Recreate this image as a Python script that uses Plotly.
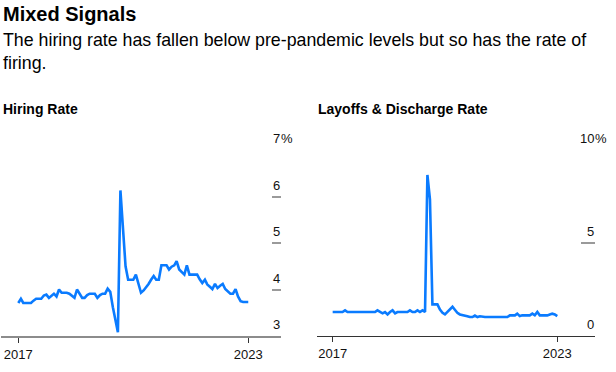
import pandas as pd
import plotly.graph_objects as go

# ---- data ----
months = pd.date_range("2017-01-01", periods=91, freq="MS")

hiring_rate = [3.71, 3.80, 3.71, 3.71, 3.71, 3.71, 3.76, 3.80, 3.80, 3.80,
               3.87, 3.89, 3.82, 3.87, 3.91, 3.85, 4.00, 3.93, 3.93, 3.93,
               3.91, 3.86, 3.82, 4.00, 3.91, 3.82, 3.82, 3.88, 3.91, 3.91,
               3.91, 3.82, 3.88, 3.91, 3.91, 4.02, 3.95, 3.62, 3.35, 3.08,
               6.13, 5.30, 4.50, 4.21, 4.21, 4.21, 4.32, 4.12, 3.93, 3.98,
               4.04, 4.12, 4.21, 4.29, 4.21, 4.21, 4.52, 4.52, 4.52, 4.43,
               4.49, 4.52, 4.61, 4.43, 4.37, 4.32, 4.52, 4.32, 4.32, 4.32,
               4.32, 4.22, 4.14, 4.21, 4.11, 4.06, 4.01, 4.12, 4.03, 4.08,
               4.12, 4.01, 3.96, 3.91, 3.91, 4.01, 3.85, 3.75, 3.73, 3.73, 3.73]

layoffs_rate = [1.29, 1.29, 1.29, 1.29, 1.29, 1.38, 1.29, 1.29, 1.29, 1.29,
                1.29, 1.29, 1.29, 1.29, 1.29, 1.29, 1.29, 1.29, 1.38, 1.29,
                1.22, 1.29, 1.16, 1.29, 1.38, 1.22, 1.29, 1.29, 1.29, 1.29,
                1.29, 1.38, 1.29, 1.29, 1.38, 1.29, 1.38, 1.29, 8.66, 7.35,
                1.70, 1.70, 1.70, 1.42, 1.25, 1.16, 1.30, 1.45, 1.57, 1.40,
                1.25, 1.16, 1.14, 1.11, 1.06, 1.02, 1.02, 1.10, 1.02, 1.06,
                1.02, 1.02, 1.02, 1.02, 1.02, 1.02, 1.02, 1.02, 1.02, 1.02,
                1.02, 1.11, 1.11, 1.11, 1.20, 1.07, 1.11, 1.11, 1.11, 1.11,
                1.20, 1.11, 1.29, 1.11, 1.11, 1.11, 1.11, 1.16, 1.20, 1.16, 1.07]

hiring_ticks = [3, 4, 5, 6, 7]
layoffs_ticks = [0, 5, 10]
x_tick_text = ["2017", "2023"]

title = "Mixed Signals"
subtitle = "The hiring rate has fallen below pre-pandemic levels but so has the rate of<br>firing."
panel_titles = ["Hiring Rate", "Layoffs & Discharge Rate"]

# ---- layout geometry ----
W, H = 616, 372
ML, MR, MT, MB = 0, 21, 150, 36
PW = W - ML - MR
PH = H - MT - MB

def px_x(p):
    return (p - ML) / PW

def px_y(p):
    return (H - MB - p) / PH

LINE_BLUE = "#0a7bff"
FONT = "Liberation Sans, Arial, sans-serif"

fig = go.Figure()
fig.add_trace(go.Scatter(x=months, y=hiring_rate, mode="lines",
                         line=dict(color=LINE_BLUE, width=2.6),
                         xaxis="x", yaxis="y", hoverinfo="skip"))
fig.add_trace(go.Scatter(x=months, y=layoffs_rate, mode="lines",
                         line=dict(color=LINE_BLUE, width=2.6),
                         xaxis="x2", yaxis="y2", hoverinfo="skip"))

left_dom = [px_x(1), px_x(281)]
right_dom = [px_x(317), px_x(595)]

xcommon = dict(showgrid=False, zeroline=False, ticks="outside", ticklen=5,
               tickwidth=1, tickcolor="#333333", showline=True,
               tickfont=dict(family=FONT, size=13, color="#111111"),
               tickvals=[months[0], months[-1]], ticktext=x_tick_text,
               fixedrange=True)

fig.update_layout(
    width=W, height=H,
    margin=dict(l=ML, r=MR, t=MT, b=MB, pad=0),
    paper_bgcolor="white", plot_bgcolor="white",
    showlegend=False,
    xaxis=dict(domain=left_dom, anchor="y",
               range=["2016-06-09", "2025-07-26"],
               linecolor="#8c8c8c", linewidth=2, **xcommon),
    xaxis2=dict(domain=right_dom, anchor="y2",
                range=["2016-06-24", "2025-10-04"],
                linecolor="#333333", linewidth=1, **xcommon),
    yaxis=dict(domain=[0, 1], anchor="x", side="right", range=[3, 7],
               showgrid=False, zeroline=False, showline=False,
               ticks="inside", ticklen=9, tickwidth=2, tickcolor="#9a9a9a",
               tickvals=hiring_ticks, showticklabels=False, fixedrange=True),
    yaxis2=dict(domain=[0, 1], anchor="x2", side="right", range=[0, 10],
                showgrid=False, zeroline=False, showline=False,
                ticks="inside", ticklen=14, tickwidth=2, tickcolor="#9a9a9a",
                tickvals=layoffs_ticks, showticklabels=False, fixedrange=True),
)

ann = []
ann.append(dict(text="<b>" + title + "</b>", x=px_x(1), y=px_y(14),
                xref="paper", yref="paper", xanchor="left", yanchor="middle",
                showarrow=False, font=dict(family=FONT, size=20, color="#000")))
ann.append(dict(text=subtitle, x=px_x(1), y=px_y(51),
                xref="paper", yref="paper", xanchor="left", yanchor="middle",
                align="left", showarrow=False,
                font=dict(family=FONT, size=17.8, color="#000")))
ann.append(dict(text="<b>" + panel_titles[0] + "</b>", x=px_x(1), y=px_y(109),
                xref="paper", yref="paper", xanchor="left", yanchor="middle",
                showarrow=False, font=dict(family=FONT, size=14, color="#000")))
ann.append(dict(text="<b>" + panel_titles[1] + "</b>", x=px_x(316), y=px_y(109),
                xref="paper", yref="paper", xanchor="left", yanchor="middle",
                showarrow=False, font=dict(family=FONT, size=14, color="#000")))

# y tick labels: numbers right-aligned at the axis edge, sitting above each tick,
# with a "%" suffix on the top tick that overhangs to the right
for ticks, yref, xedge in [(hiring_ticks, "y", left_dom[1]), (layoffs_ticks, "y2", right_dom[1])]:
    for v in ticks:
        ann.append(dict(text=str(v), x=xedge, y=v, xref="paper", yref=yref,
                        xanchor="right", yanchor="bottom", yshift=3, xshift=0,
                        showarrow=False, borderpad=0,
                        font=dict(family=FONT, size=13, color="#111111")))
    ann.append(dict(text="%", x=xedge, y=ticks[-1], xref="paper", yref=yref,
                    xanchor="left", yanchor="bottom", yshift=3, xshift=-1,
                    showarrow=False, borderpad=0,
                    font=dict(family=FONT, size=13, color="#111111")))

fig.update_layout(annotations=ann)
fig.write_html("out.html", config={"displayModeBar": False, "staticPlot": True},
               post_script="document.body.style.margin='0';")
